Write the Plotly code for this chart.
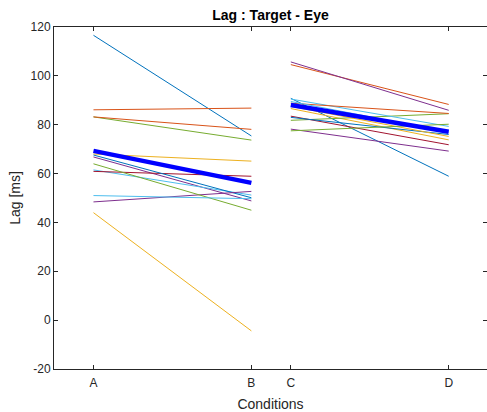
import plotly.graph_objects as go

conditions = ["A", "B", "C", "D"]
cond_pos = [1, 5, 6, 10]
y_ticks = [-20, 0, 20, 40, 60, 80, 100, 120]
y_ticklabels = ["-20", "0", "20", "40", "60", "80", "100", "120"]

# per-subject lag values [ms]
lag_A = [116.6, 86.1, 68.0, 66.8, 83.2, 61.5, 60.9, 67.6, 83.2, 44.0, 48.4, 64.0, 51.0]
lag_B = [75.4, 86.8, 65.1, 48.8, 73.7, 51.2, 58.9, 50.1, 78.1, -4.4, 52.7, 45.0, 49.7]
lag_C = [90.8, 104.6, 86.6, 105.7, 81.8, 90.5, 83.5, 83.0, 88.8, 87.5, 78.2, 77.5, 89.5]
lag_D = [58.9, 88.3, 73.8, 85.9, 84.5, 79.3, 71.8, 76.0, 84.6, 75.2, 69.2, 80.2, 77.0]

# group means
mean_AB = [69.3, 56.2]
mean_CD = [88.1, 77.1]

colors = ["#0072BD", "#D95319", "#EDB120", "#7E2F8E", "#77AC30", "#4DBEEE", "#A2142F"]

fig = go.Figure()
for i in range(len(lag_A)):
    c = colors[i % len(colors)]
    fig.add_trace(go.Scatter(
        x=[cond_pos[0], cond_pos[1], None, cond_pos[2], cond_pos[3]],
        y=[lag_A[i], lag_B[i], None, lag_C[i], lag_D[i]],
        mode="lines", line=dict(color=c, width=1), showlegend=False,
        hoverinfo="skip"))

fig.add_trace(go.Scatter(
    x=[cond_pos[0], cond_pos[1], None, cond_pos[2], cond_pos[3]],
    y=[mean_AB[0], mean_AB[1], None, mean_CD[0], mean_CD[1]],
    mode="lines", line=dict(color="#0000FF", width=4.5), showlegend=False))

axis_col = "#262626"
font_fam = "Liberation Sans, Arial, sans-serif"

fig.update_layout(
    width=487, height=412,
    margin=dict(l=54, r=0, t=27, b=43),
    paper_bgcolor="white", plot_bgcolor="white",
    font=dict(family=font_fam, size=12, color=axis_col),
    title=dict(text="<b>Lag : Target - Eye</b>", x=0.5, xref="paper",
               xanchor="center", y=1, yref="paper", yanchor="bottom",
               pad=dict(b=7), font=dict(size=14, color="black")),
    xaxis=dict(range=[0, 10.97], tickvals=cond_pos, ticktext=conditions,
               ticks="inside", ticklen=4, tickcolor=axis_col,
               showline=True, linecolor=axis_col, linewidth=1, mirror="ticks",
               showgrid=False, zeroline=False, ticklabelstandoff=3,
               title=dict(text="Conditions", standoff=9, font=dict(size=14)),
               tickfont=dict(size=12)),
    yaxis=dict(range=[-20, 120], tickvals=y_ticks, ticktext=y_ticklabels,
               ticks="inside", ticklen=4, tickcolor=axis_col,
               showline=True, linecolor=axis_col, linewidth=1, mirror="ticks",
               showgrid=False, zeroline=False,
               title=dict(text="Lag [ms]", standoff=6, font=dict(size=14)),
               tickfont=dict(size=12)),
)

fig.write_html("out.html")
